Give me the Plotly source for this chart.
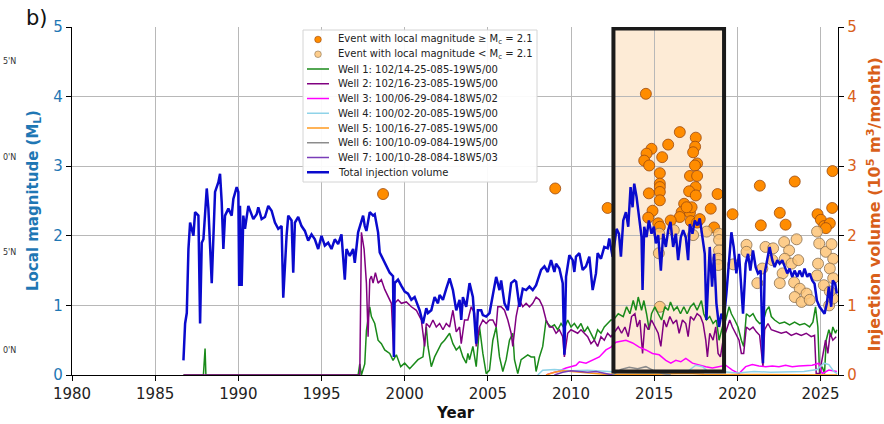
import plotly.graph_objects as go

# ---------------- data ----------------
# Total monthly injection volume (10^5 m^3/month)
TOTAL_YEAR = [
    1986.7, 1986.8, 1986.9, 1987.0, 1987.1, 1987.3, 1987.4, 1987.6, 1987.7, 1987.8, 1987.9,
    1988.1, 1988.2, 1988.4, 1988.6, 1988.8, 1988.9, 1989.0, 1989.1, 1989.2, 1989.4, 1989.6,
    1989.7, 1989.9, 1990.0, 1990.05, 1990.1, 1990.2, 1990.3, 1990.4, 1990.6, 1990.9, 1991.1,
    1991.2, 1991.4, 1991.6, 1991.8, 1992.0, 1992.2, 1992.4, 1992.6, 1992.7, 1992.9, 1993.0,
    1993.2, 1993.3, 1993.4, 1993.6, 1993.8, 1994.0, 1994.2, 1994.4, 1994.6, 1994.8, 1995.0,
    1995.2, 1995.4, 1995.6, 1995.8, 1996.0, 1996.2, 1996.4, 1996.5, 1996.7, 1996.9, 1997.0,
    1997.2, 1997.4, 1997.5, 1997.6, 1997.7, 1997.9, 1998.1, 1998.2, 1998.4, 1998.5, 1998.7,
    1998.9, 1999.1, 1999.3, 1999.35, 1999.4, 1999.6, 1999.8,
    2000.0, 2000.2, 2000.4, 2000.6, 2000.9, 2001.1, 2001.3, 2001.4, 2001.6, 2001.8, 2002.0,
    2002.1, 2002.3, 2002.5, 2002.7, 2002.9, 2003.1, 2003.3, 2003.4, 2003.5, 2003.7, 2003.9,
    2004.1, 2004.3, 2004.4, 2004.6, 2004.7, 2004.9, 2005.1, 2005.3, 2005.5, 2005.7, 2005.8,
    2006.0, 2006.2, 2006.4, 2006.6, 2006.7, 2006.9, 2007.1, 2007.3, 2007.5, 2007.7, 2007.9,
    2008.0, 2008.2, 2008.4, 2008.6, 2008.8, 2009.0, 2009.1, 2009.3, 2009.5, 2009.6, 2009.7,
    2009.9, 2010.1, 2010.2, 2010.3, 2010.5, 2010.7, 2010.9, 2011.1, 2011.3, 2011.5, 2011.6,
    2011.8, 2012.0, 2012.2, 2012.3, 2012.5, 2012.64, 2012.74, 2012.88, 2013.0, 2013.14,
    2013.3, 2013.44, 2013.58, 2013.7, 2013.8, 2013.94, 2014.14, 2014.24, 2014.3, 2014.4,
    2014.54, 2014.68, 2014.84, 2014.98, 2015.1, 2015.24, 2015.4, 2015.54, 2015.7, 2015.84,
    2015.98, 2016.14, 2016.3, 2016.44, 2016.6, 2016.74, 2016.9, 2017.04, 2017.14, 2017.3,
    2017.44, 2017.6, 2017.74, 2017.9, 2018.04, 2018.14, 2018.24, 2018.34, 2018.48, 2018.6,
    2018.74, 2018.9, 2019.04, 2019.18, 2019.34, 2019.5, 2019.64, 2019.78, 2019.94, 2020.1,
    2020.24, 2020.34, 2020.5, 2020.64, 2020.78, 2020.94, 2021.1, 2021.24, 2021.4, 2021.54,
    2021.64, 2021.78, 2021.94, 2022.1, 2022.24, 2022.4, 2022.54, 2022.7, 2022.84, 2023.0,
    2023.14, 2023.3, 2023.44, 2023.6, 2023.74, 2023.9, 2024.04, 2024.2, 2024.34, 2024.5,
    2024.64, 2024.78, 2024.94, 2025.1, 2025.24, 2025.38, 2025.5, 2025.64, 2025.74, 2025.88,
    2025.98,
]
TOTAL_VOL = [
    0.21, 0.74, 0.89, 1.81, 2.19, 2.00, 2.34, 2.29, 0.74, 1.90, 1.95,
    2.68, 2.39, 1.32, 2.63, 2.77, 2.89, 2.48, 1.81, 2.29, 2.39, 2.29,
    2.53, 2.70, 2.63, 1.28, 2.43, 1.28, 2.29, 2.10, 2.43, 2.24, 2.31,
    2.41, 2.24, 2.27, 2.43, 2.36, 2.19, 2.10, 2.14, 1.11, 2.00, 2.29,
    2.22, 1.47, 2.19, 2.27, 2.14, 2.07, 1.93, 2.02, 1.95, 1.81, 2.00,
    1.86, 1.90, 1.81, 1.95, 1.88, 2.02, 1.37, 1.81, 1.71, 1.81, 1.61,
    2.05, 2.19, 2.29, 2.14, 2.07, 2.34, 2.29, 2.31, 2.05, 1.76, 1.66,
    1.57, 1.47, 1.42, 0.26, 1.32, 1.37, 1.28,
    1.20, 1.17, 1.08, 1.12, 0.93, 0.74, 0.96, 0.89, 0.93, 1.12, 1.03,
    1.15, 1.08, 1.24, 1.39, 1.22, 0.93, 1.08, 0.79, 1.12, 0.98, 1.32,
    1.12, 0.45, 0.93, 0.93, 0.86, 0.84, 0.89, 1.15, 1.41, 1.22, 1.36,
    1.03, 0.93, 1.32, 1.36, 1.34, 0.98, 1.24, 1.22, 1.27, 1.22, 1.29,
    1.36, 1.51, 1.56, 1.48, 1.65, 1.48, 1.60, 1.53, 1.32, 0.29, 1.41,
    1.72, 1.65, 1.48, 1.70, 1.75, 1.51, 1.56, 1.70, 1.22, 1.46, 1.75,
    1.67, 1.84, 1.82, 1.96, 1.70, 1.91, 2.10, 2.03, 1.70, 2.22,
    2.34, 2.13, 2.70, 2.41, 2.75, 2.56, 2.22, 1.98, 1.22, 2.13,
    1.98, 2.22, 2.03, 2.13, 1.89, 2.01, 1.50, 2.03, 1.84, 2.08,
    2.20, 1.84, 2.03, 1.65, 1.98, 2.08, 1.98, 1.65, 2.17, 2.03,
    2.22, 2.15, 2.25, 1.98, 1.74, 0.79, 1.46, 1.84, 1.27, 1.74,
    1.03, 0.69, 0.88, 0.79, 1.17, 1.65, 2.05, 1.84, 1.46, 1.74,
    1.17, 0.88, 1.60, 1.74, 1.50, 1.79, 1.55, 1.46, 1.50, 0.17,
    1.46, 1.65, 1.84, 1.65, 1.55, 1.65, 1.60, 1.65, 1.55, 1.46,
    1.53, 1.41, 1.50, 1.41, 1.50, 1.41, 1.53, 1.41, 1.46, 1.36,
    1.31, 1.07, 0.98, 0.93, 0.88, 1.03, 1.27, 0.98, 1.36, 1.31,
    1.17,
]

# Well 1: 102/14-25-085-19W5/00
W1_YEAR = [
    1986.7, 1987.9, 1988.0, 1988.05, 1997.2, 1997.3, 1997.4, 1997.6, 1997.7, 1997.9, 1998.0,
    1998.2, 1998.4, 1998.6, 1998.8, 1999.1, 1999.3, 1999.5, 1999.76, 2000.0, 2000.3, 2000.6,
    2000.8, 2001.1, 2001.3, 2001.4, 2001.6, 2001.8, 2002.0, 2002.2, 2002.4, 2002.6, 2002.7,
    2002.9, 2003.1, 2003.3, 2003.5, 2003.7, 2003.8, 2003.9, 2004.1, 2004.3, 2004.5, 2004.7,
    2004.9, 2005.1, 2005.3, 2005.5, 2005.7, 2005.9, 2006.1, 2006.3, 2006.5, 2006.6, 2006.8,
    2007.0, 2007.2, 2007.4, 2007.6, 2007.8, 2007.9, 2008.1, 2008.3, 2008.5, 2008.6, 2008.8,
    2009.0, 2009.2, 2009.4, 2009.6, 2009.8, 2010.0, 2010.2, 2010.4, 2010.6, 2010.8, 2011.0,
    2011.2, 2011.4, 2011.6, 2011.8, 2012.0, 2012.2, 2012.4, 2012.54, 2012.84, 2013.14, 2013.34,
    2013.54, 2013.74, 2013.9, 2014.04, 2014.24, 2014.38, 2014.54, 2014.7, 2014.84, 2015.04,
    2015.24, 2015.44, 2015.64, 2015.84, 2015.98, 2016.18, 2016.38, 2016.58, 2016.78, 2016.98,
    2017.18, 2017.38, 2017.58, 2017.74, 2017.84, 2017.98, 2018.14, 2018.34, 2018.54, 2018.74,
    2018.9, 2019.1, 2019.3, 2019.5, 2019.64, 2019.84, 2020.04, 2020.24, 2020.38, 2020.54,
    2020.74, 2020.94, 2021.14, 2021.34, 2021.54, 2021.74, 2021.9, 2022.04, 2022.24, 2022.54,
    2022.84, 2023.14, 2023.44, 2023.74, 2024.04, 2024.34, 2024.54, 2024.7, 2024.84, 2024.94,
    2025.1, 2025.24, 2025.34, 2025.5, 2025.64, 2025.74, 2025.9, 2025.98,
]
W1_VOL = [
    0.00, 0.00, 0.38, 0.00, 0.00, 0.16, 0.00, 0.16, 0.64, 0.98, 0.84,
    0.74, 0.50, 0.45, 0.36, 0.31, 0.21, 0.29, 0.12, 0.17, 0.09, 0.17,
    0.22, 0.26, 0.69, 0.41, 0.12, 0.26, 0.36, 0.45, 0.50, 0.57, 0.60,
    0.45, 0.36, 0.41, 0.26, 0.17, 0.31, 0.22, 0.41, 0.12, 0.69, 0.31,
    0.02, 0.07, 0.50, 0.69, 0.26, 0.05, 0.22, 0.50, 0.60, 0.22, 0.02,
    0.22, 0.26, 0.29, 0.26, 0.26, 0.05, 0.26, 0.41, 0.79, 0.74, 0.69,
    0.72, 0.65, 0.74, 0.67, 0.79, 0.69, 0.74, 0.67, 0.74, 0.62, 0.69,
    0.60, 0.50, 0.65, 0.60, 0.69, 0.74, 0.79, 0.79, 0.88, 0.84, 0.98,
    0.88, 1.07, 0.93, 1.12, 0.93, 1.07, 0.88, 0.65, 0.88, 0.98,
    0.88, 0.79, 0.98, 0.93, 1.05, 0.93, 0.98, 0.88, 0.98, 0.88,
    0.98, 1.03, 0.93, 1.03, 1.07, 0.88, 0.79, 0.84, 0.74, 0.79,
    0.50, 0.69, 0.79, 0.98, 0.88, 0.79, 0.69, 0.50, 0.41, 0.88,
    0.84, 0.88, 0.79, 0.74, 0.76, 0.93, 0.98, 0.84, 0.79, 0.74,
    0.76, 0.72, 0.76, 0.72, 0.74, 0.69, 0.76, 0.98, 0.69, 0.02,
    0.12, 0.02, 0.50, 0.65, 0.55, 0.69, 0.60, 0.65,
]

# Well 2: 102/16-23-085-19W5/00
W2_YEAR = [
    1986.7, 1997.3, 1997.4, 1997.56, 1997.7, 1997.8, 1997.9, 1998.0, 1998.1, 1998.24, 1998.4,
    1998.6, 1998.8, 1999.0, 1999.2, 1999.35, 1999.4, 1999.6, 1999.8, 2000.1, 2000.4, 2000.7,
    2001.0, 2001.1, 2001.2, 2001.3, 2001.5, 2001.7, 2001.9, 2002.1, 2002.3, 2002.5, 2002.7,
    2002.9, 2003.1, 2003.3, 2003.4, 2003.6, 2003.8, 2004.0, 2004.2, 2004.3, 2004.5, 2004.7,
    2004.9, 2005.1, 2005.3, 2005.5, 2005.6, 2005.8, 2006.0, 2006.2, 2006.4, 2006.5, 2006.7,
    2006.9, 2007.1, 2007.3, 2007.5, 2007.7, 2007.9, 2008.1, 2008.3, 2008.5, 2008.7, 2008.9,
    2009.1, 2009.3, 2009.5, 2009.6, 2009.8, 2010.0, 2010.2, 2010.4, 2010.6, 2010.8, 2011.0,
    2011.2, 2011.4, 2011.6, 2011.8, 2012.0, 2012.2, 2012.4, 2012.54, 2012.84, 2013.04, 2013.24,
    2013.44, 2013.64, 2013.84, 2013.98, 2014.14, 2014.3, 2014.44, 2014.64, 2014.84, 2015.04,
    2015.24, 2015.4, 2015.58, 2015.74, 2015.94, 2016.14, 2016.34, 2016.5, 2016.7, 2016.9,
    2017.04, 2017.18, 2017.38, 2017.58, 2017.78, 2017.94, 2018.1, 2018.2, 2018.34, 2018.54,
    2018.7, 2018.84, 2018.98, 2019.14, 2019.34, 2019.54, 2019.7, 2019.9, 2020.1, 2020.24,
    2020.38, 2020.54, 2020.74, 2020.94, 2021.14, 2021.34, 2021.54, 2021.64, 2021.84, 2022.04,
    2022.34, 2022.64, 2022.94, 2023.24, 2023.54, 2023.84, 2024.14, 2024.44, 2024.64, 2024.74,
    2024.94, 2025.14, 2025.3, 2025.44, 2025.58, 2025.74, 2025.94,
]
W2_VOL = [
    0.00, 0.00, 2.05, 1.81, 1.32, 0.55, 1.37, 1.42, 1.32, 1.47, 1.32,
    1.37, 1.23, 1.13, 1.03, 0.26, 1.03, 1.08, 1.03, 1.05, 0.98, 0.93,
    0.79, 0.60, 0.41, 0.74, 0.69, 0.79, 0.69, 0.74, 0.65, 0.74, 0.69,
    0.93, 0.62, 0.69, 0.45, 0.79, 0.79, 0.98, 0.89, 0.41, 0.69, 0.79,
    0.74, 0.79, 0.79, 0.69, 0.98, 0.98, 0.93, 0.79, 0.60, 0.41, 0.84,
    1.08, 0.98, 1.03, 0.98, 1.03, 1.12, 1.08, 0.98, 0.79, 0.69, 0.69,
    0.60, 0.65, 0.55, 0.26, 0.60, 0.65, 0.62, 0.60, 0.65, 0.60, 0.55,
    0.45, 0.50, 0.41, 0.55, 0.50, 0.60, 0.55, 0.60, 0.69, 0.60, 0.69,
    0.55, 0.84, 0.88, 0.69, 0.79, 0.31, 0.74, 0.65, 0.79, 0.69,
    0.60, 0.41, 0.79, 0.69, 0.84, 0.74, 0.79, 0.60, 0.79, 0.74,
    0.55, 0.84, 0.79, 0.88, 0.84, 0.74, 0.50, 0.26, 0.60, 0.50,
    0.69, 0.31, 0.26, 0.50, 0.65, 0.79, 0.69, 0.60, 0.50, 0.31,
    0.31, 0.69, 0.65, 0.69, 0.62, 0.57, 0.12, 0.65, 0.74, 0.65,
    0.62, 0.60, 0.62, 0.57, 0.60, 0.57, 0.60, 0.55, 0.57, 0.02,
    0.02, 0.31, 0.50, 0.31, 0.60, 0.50, 0.55,
]

# Well 3: 100/06-29-084-18W5/02
W3_YEAR = [
    2008.5, 2008.7, 2009.2, 2009.7, 2010.3, 2010.5, 2010.9, 2011.3, 2011.7, 2012.1, 2012.4,
    2012.7, 2013.0, 2013.3, 2013.7, 2014.1, 2014.5, 2014.9, 2015.3, 2015.7, 2016.0, 2016.3,
    2016.6, 2016.9, 2017.3, 2017.7, 2018.1, 2018.5, 2018.9, 2019.3, 2019.7, 2020.1, 2020.5,
    2020.9, 2021.3, 2021.7, 2022.1, 2022.5, 2022.9, 2023.3, 2023.7, 2024.1, 2024.5, 2024.9,
    2025.1, 2025.5, 2025.98,
]
W3_VOL = [
    0.00, 0.02, 0.05, 0.10, 0.14, 0.19, 0.17, 0.22, 0.26, 0.36, 0.40,
    0.47, 0.48, 0.50, 0.46, 0.40, 0.36, 0.31, 0.29, 0.21, 0.17, 0.21,
    0.19, 0.24, 0.17, 0.14, 0.12, 0.10, 0.12, 0.14, 0.07, 0.02, 0.12,
    0.15, 0.13, 0.12, 0.13, 0.12, 0.14, 0.12, 0.13, 0.14, 0.14, 0.17,
    0.02, 0.07, 0.05,
]

# Well 4: 100/02-20-085-19W5/00
W4_YEAR = [
    2008.0, 2008.3, 2009.0, 2010.0, 2011.0, 2012.0, 2013.0, 2014.0, 2015.0, 2016.0, 2017.0,
    2017.5, 2017.9, 2018.3, 2019.0, 2020.0, 2021.0, 2022.0, 2023.0, 2024.0, 2024.8, 2025.2,
    2025.5, 2025.8, 2026.0,
]
W4_VOL = [
    0.00, 0.07, 0.08, 0.06, 0.07, 0.05, 0.04, 0.03, 0.02, 0.03, 0.05,
    0.14, 0.12, 0.04, 0.05, 0.03, 0.05, 0.04, 0.05, 0.05, 0.08, 0.17,
    0.15, 0.05, 0.02,
]

# Well 5: 100/16-27-085-19W5/00
W5_YEAR = [2008.5, 2009.0, 2009.5, 2010.0, 2010.5, 2011.0, 2012.0, 2015.0, 2016.0, 2017.0, 2018.0, 2026.0]
W5_VOL = [0.00, 0.04, 0.06, 0.05, 0.04, 0.02, 0.01, 0.01, 0.02, 0.02, 0.01, 0.00]

# Well 6: 100/10-09-084-19W5/00
W6_YEAR = [2012.5, 2013.0, 2013.5, 2014.0, 2014.5, 2015.0, 2015.5, 2016.0]
W6_VOL = [0.00, 0.08, 0.11, 0.09, 0.12, 0.06, 0.02, 0.00]

# Well 7: 100/10-28-084-18W5/03
W7_YEAR = [2009.0, 2009.5, 2010.0, 2010.5, 2011.0, 2011.5, 2012.0, 2012.5]
W7_VOL = [0.00, 0.04, 0.06, 0.05, 0.04, 0.05, 0.03, 0.00]

# Seismic events at or above the completeness magnitude Mc = 2.1
BIG_YEAR = [
    1998.7, 2009.05, 2012.2, 2014.5, 2014.84, 2014.54, 2014.4, 2014.7, 2015.34, 2015.48,
    2015.84, 2016.54, 2017.5, 2017.46, 2017.34, 2017.58, 2017.45, 2017.15, 2017.58, 2017.49,
    2017.1, 2017.5, 2015.34, 2015.34, 2015.34, 2015.34, 2014.68, 2014.9, 2014.64, 2016.8,
    2016.65, 2016.54, 2017.15, 2017.25, 2016.95, 2015.99, 2015.24, 2015.34, 2017.2, 2017.58,
    2017.74, 2018.4, 2018.81, 2018.6, 2019.71, 2021.35, 2021.41, 2022.55, 2022.9, 2023.45,
    2024.82, 2025.02, 2025.22, 2025.56, 2025.32, 2025.7, 2025.72,
]
BIG_MAG = [
    2.60, 2.68, 2.40, 4.04, 3.25, 3.18, 3.08, 3.01, 2.90, 3.13,
    3.31, 3.49, 3.41, 3.28, 3.20, 3.04, 3.01, 2.86, 2.86, 2.70,
    2.64, 2.58, 2.75, 2.70, 2.63, 2.51, 2.61, 2.36, 2.26, 2.46,
    2.34, 2.27, 2.33, 2.41, 2.41, 2.22, 2.18, 2.13, 2.21, 2.19,
    2.24, 2.39, 2.60, 2.12, 2.31, 2.72, 2.15, 2.33, 2.16, 2.78,
    2.31, 2.23, 2.14, 2.18, 2.11, 2.40, 2.93,
]

# Seismic events below Mc = 2.1
SMALL_YEAR = [
    2015.34, 2015.3, 2015.28, 2016.18, 2017.34, 2018.15, 2018.89, 2018.9, 2018.9, 2018.85,
    2018.85, 2019.75, 2020.55, 2020.55, 2021.2, 2021.5, 2021.69, 2022.15, 2022.11, 2022.81,
    2023.56, 2023.11, 2022.85, 2023.26, 2023.66, 2022.72, 2022.55, 2023.41, 2023.75, 2023.45,
    2023.86, 2024.16, 2024.35, 2024.79, 2024.92, 2025.32, 2025.66, 2025.76, 2025.56, 2024.79,
    2025.2, 2025.76, 2024.85, 2025.52, 2025.76, 2025.56,
]
SMALL_MAG = [
    0.98, 2.03, 1.75, 2.08, 2.01, 2.06, 2.03, 1.94, 1.79, 1.67,
    1.58, 1.59, 1.87, 1.77, 1.32, 1.53, 1.84, 1.82, 1.65, 1.91,
    1.95, 1.79, 1.67, 1.60, 1.65, 1.46, 1.32, 1.33, 1.24, 1.12,
    1.05, 1.17, 1.08, 2.06, 1.89, 1.77, 1.88, 1.67, 1.53, 1.43,
    1.29, 1.39, 1.60, 1.00, 1.10, 1.20,
]

# Highlighted period of elevated seismicity
PERIOD_START, PERIOD_END = 2012.55, 2019.2

X_TICKS = [1980, 1985, 1990, 1995, 2000, 2005, 2010, 2015, 2020, 2025]
Y_TICKS = [0, 1, 2, 3, 4, 5]

BIG_LABEL = "Event with local magnitude \u2265 M<sub>c</sub> = 2.1"
SMALL_LABEL = "Event with local magnitude < M<sub>c</sub> = 2.1"
TOTAL_LABEL = "Total injection volume"
WELLS = [
    ("Well 1: 102/14-25-085-19W5/00", W1_YEAR, W1_VOL, "#1a8a1a"),
    ("Well 2: 102/16-23-085-19W5/00", W2_YEAR, W2_VOL, "#800080"),
    ("Well 3: 100/06-29-084-18W5/02", W3_YEAR, W3_VOL, "#ff00ff"),
    ("Well 4: 100/02-20-085-19W5/00", W4_YEAR, W4_VOL, "#8fd3e8"),
    ("Well 5: 100/16-27-085-19W5/00", W5_YEAR, W5_VOL, "#ff9a1f"),
    ("Well 6: 100/10-09-084-19W5/00", W6_YEAR, W6_VOL, "#8c8c8c"),
    ("Well 7: 100/10-28-084-18W5/03", W7_YEAR, W7_VOL, "#7a3db8"),
]

# ---------------- styling ----------------
FONT = "DejaVu Sans"
BLUE_AX = "#1f77b4"
ORANGE_AX = "#d95f1a"
TOTAL_COLOR = "#0a0acd"
BIG_FILL, BIG_EDGE = "#ff8c00", "#9a4a10"
SMALL_FILL, SMALL_EDGE = "rgba(253,196,120,0.85)", "#8a7050"

# plot area in pixels (matches the margins below)
PLOT_L, PLOT_R, PLOT_T, PLOT_B = 72, 838, 27, 375


def px_x(px):
    return (px - PLOT_L) / float(PLOT_R - PLOT_L)


def px_y(py):
    return (PLOT_B - py) / float(PLOT_B - PLOT_T)


# ---------------- figure ----------------
fig = go.Figure()

fig.add_trace(go.Scatter(
    x=BIG_YEAR, y=BIG_MAG, mode="markers", yaxis="y", name=BIG_LABEL,
    marker=dict(size=11, color=BIG_FILL, line=dict(color=BIG_EDGE, width=0.8)),
))
fig.add_trace(go.Scatter(
    x=SMALL_YEAR, y=SMALL_MAG, mode="markers", yaxis="y", name=SMALL_LABEL,
    marker=dict(size=11, color=SMALL_FILL, line=dict(color=SMALL_EDGE, width=0.8)),
))
for name, xs, ys, col in WELLS:
    fig.add_trace(go.Scatter(
        x=xs, y=ys, mode="lines", yaxis="y2", name=name,
        line=dict(color=col, width=1.5),
    ))
fig.add_trace(go.Scatter(
    x=TOTAL_YEAR, y=TOTAL_VOL, mode="lines", yaxis="y2", name=TOTAL_LABEL,
    line=dict(color=TOTAL_COLOR, width=2.5),
))

shapes = []
# shaded period (fill under the grid, frame over the lines)
shapes.append(dict(type="rect", xref="x", yref="y", x0=PERIOD_START, x1=PERIOD_END, y0=0.05, y1=4.98,
                   fillcolor="#fdebd6", line=dict(width=0), layer="below"))
shapes.append(dict(type="rect", xref="x", yref="y", x0=PERIOD_START, x1=PERIOD_END, y0=0.05, y1=4.98,
                   fillcolor="rgba(0,0,0,0)", line=dict(color="#1a1a1a", width=4), layer="above"))

# compact legend box, drawn with shapes and annotations
LEG_L, LEG_R, LEG_T, LEG_B = 303, 537, 30, 182
LEG_ROW0, LEG_STEP = 39.5, 14.75
shapes.append(dict(type="rect", xref="paper", yref="paper",
                   x0=px_x(LEG_L), x1=px_x(LEG_R), y0=px_y(LEG_B), y1=px_y(LEG_T),
                   fillcolor="rgba(255,255,255,0.92)", line=dict(color="#d4d4d4", width=1),
                   layer="above"))
legend_rows = [("marker", BIG_LABEL, BIG_FILL, BIG_EDGE),
               ("marker", SMALL_LABEL, SMALL_FILL, SMALL_EDGE)]
legend_rows += [("line", name, col, 1.5) for name, _, _, col in WELLS]
legend_rows += [("line", TOTAL_LABEL, TOTAL_COLOR, 2.5)]

annotations = []
for i, row in enumerate(legend_rows):
    cy = LEG_ROW0 + i * LEG_STEP
    kind, label = row[0], row[1]
    if kind == "marker":
        r = 3.3
        shapes.append(dict(type="circle", xref="paper", yref="paper",
                           x0=px_x(318 - r), x1=px_x(318 + r), y0=px_y(cy + r), y1=px_y(cy - r),
                           fillcolor=row[2], line=dict(color=row[3], width=0.6), layer="above"))
    else:
        shapes.append(dict(type="line", xref="paper", yref="paper",
                           x0=px_x(307), x1=px_x(329), y0=px_y(cy), y1=px_y(cy),
                           line=dict(color=row[2], width=row[3]), layer="above"))
    annotations.append(dict(text=label, x=px_x(336), y=px_y(cy), xanchor="left", yanchor="middle",
                            font=dict(family=FONT, size=10, color="#222")))

axis_common = dict(
    showline=True, linecolor="black", linewidth=1.3,
    ticks="outside", ticklen=5, tickwidth=1.2, tickcolor="black",
)

fig.update_layout(
    width=884, height=424,
    margin=dict(l=PLOT_L, r=884 - PLOT_R, t=PLOT_T, b=424 - PLOT_B),
    paper_bgcolor="white", plot_bgcolor="white",
    font=dict(family=FONT, size=15, color="#222"),
    showlegend=False,
    xaxis=dict(
        range=[1980, 2026.05], tickvals=X_TICKS, ticktext=[str(v) for v in X_TICKS],
        showgrid=True, gridcolor="#b8b8b8", gridwidth=1, zeroline=False,
        tickfont=dict(family=FONT, size=15, color="#222"),
        **axis_common,
    ),
    yaxis=dict(
        range=[0, 5], tickvals=Y_TICKS, showgrid=True, gridcolor="#b8b8b8", gridwidth=1,
        zeroline=False, tickfont=dict(family=FONT, size=15, color=BLUE_AX),
        **axis_common,
    ),
    yaxis2=dict(
        range=[0, 5], tickvals=Y_TICKS, overlaying="y", side="right", showgrid=False,
        zeroline=False, tickfont=dict(family=FONT, size=15, color=ORANGE_AX),
        **axis_common,
    ),
)

annotations += [
    dict(text="<b>Year</b>", x=px_x(455), y=px_y(413), xanchor="center", yanchor="middle",
         font=dict(family=FONT, size=15, color="#111")),
    dict(text="<b>Local magnitude (M<sub>L</sub>)</b>", x=px_x(33), y=0.5, textangle=-90,
         xanchor="center", yanchor="middle", font=dict(family=FONT, size=15, color=BLUE_AX)),
    dict(text="<b>Injection volume (10<sup>5</sup> m<sup>3</sup>/month)</b>", x=px_x(874), y=0.49,
         textangle=-90, xanchor="center", yanchor="middle",
         font=dict(family=FONT, size=16, color=ORANGE_AX)),
    dict(text="b)", x=px_x(24), y=px_y(18), xanchor="left", yanchor="middle",
         font=dict(family=FONT, size=21, color="#111")),
]
for label, py in [("5'N", 61), ("0'N", 157), ("5'N", 253), ("0'N", 350)]:
    annotations.append(dict(text=label, x=px_x(1), y=px_y(py), xanchor="left", yanchor="middle",
                            font=dict(family=FONT, size=8, color="#333")))
for a in annotations:
    a.update(xref="paper", yref="paper", showarrow=False)

fig.update_layout(shapes=shapes, annotations=annotations)

fig.write_html("out.html")
